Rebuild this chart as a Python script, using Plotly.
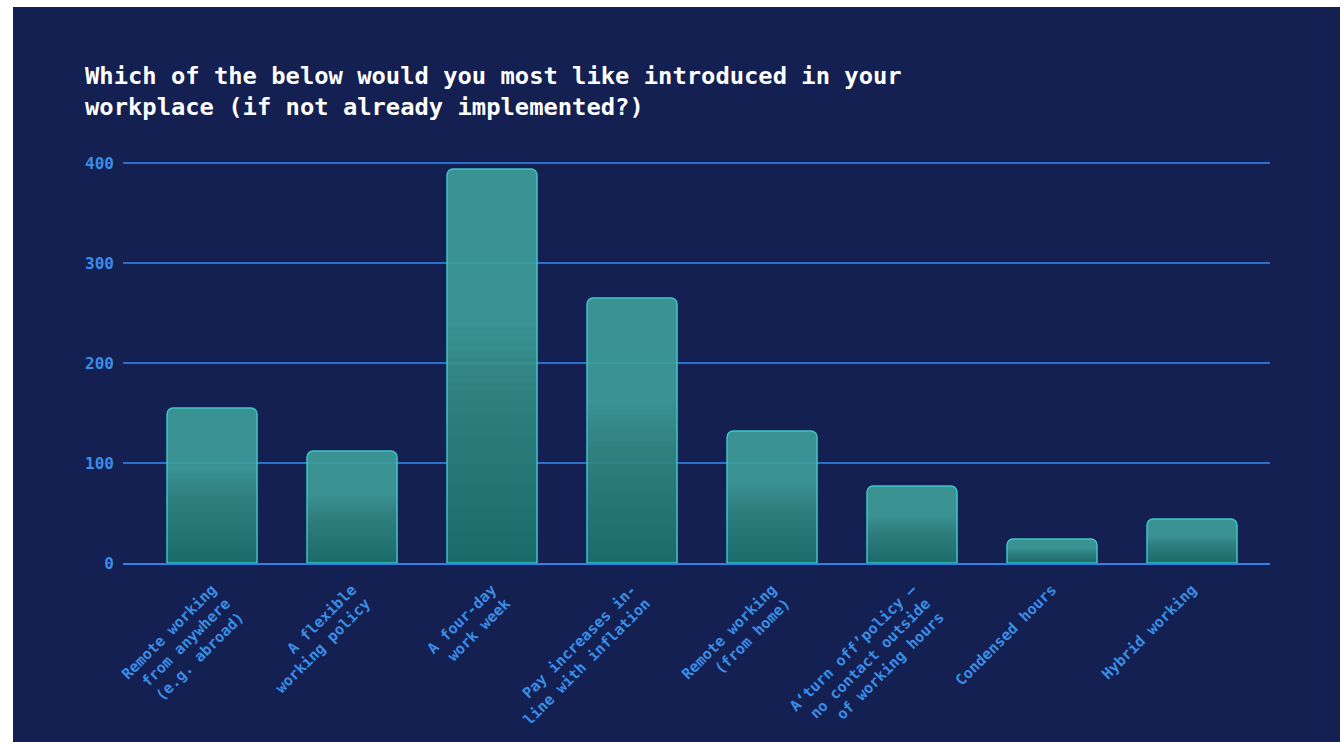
import plotly.graph_objects as go

# Survey answers (category labels, wrapped) and response counts
categories = [
    "Remote working<br>from anywhere<br>(e.g. abroad)",
    "A flexible<br>working policy",
    "A four-day<br>work week",
    "Pay increases in-<br>line with inflation",
    "Remote working<br>(from home)",
    "A‘turn off’policy –<br>no contact outside<br>of working hours",
    "Condensed hours",
    "Hybrid working",
]
responses = [155, 112, 394, 265, 132, 77, 24, 44]

y_ticks = [0, 100, 200, 300, 400]

TITLE = ("Which of the below would you most like introduced in your<br>"
         "workplace (if not already implemented?)")

BG = "#141f52"
BAR_FILL = "rgba(62,159,153,0.9)"
BAR_EDGE = "#3cc6c6"
GRID = "#2a6fc8"
AXIS_LINE = "#2f82ea"
TICK_COLOR = "#3a8ee6"
MONO = "DejaVu Sans Mono"

W, H = 1344, 742
L, R, T, B = 123, 74, 159, 179
plot_w = W - L - R
plot_h = H - T - B

fig = go.Figure()

# base bar fill with rounded tops
fig.add_trace(go.Bar(
    x=categories, y=responses,
    marker=dict(color=BAR_FILL, line=dict(width=0), cornerradius=6),
    hoverinfo="skip",
))

# stacked translucent layers darken the lower part of each bar (vertical gradient)
steps = 30
alpha = 1 - 0.62 ** (1 / steps)
for k in range(steps):
    frac = 0.6 * (k + 1) / steps
    fig.add_trace(go.Bar(
        x=categories, y=[v * frac for v in responses],
        marker=dict(color=f"rgba(20,40,48,{alpha:.4f})", line=dict(width=0)),
        hoverinfo="skip",
    ))

# outline drawn last
fig.add_trace(go.Bar(
    x=categories, y=responses,
    marker=dict(color="rgba(0,0,0,0)", line=dict(color=BAR_EDGE, width=1.5),
                cornerradius=6),
    hoverinfo="skip",
))

# white frame strips around the dark panel
def px_to_paper_x(px):
    return (px - L) / plot_w

def px_to_paper_y(py):
    return (H - B - py) / plot_h

strips = [
    (0, 0, 13, H),
    (0, 0, W, 7),
    (1340, 0, W, H),
]
shapes = []
for x0, y0, x1, y1 in strips:
    shapes.append(dict(
        type="rect", xref="paper", yref="paper",
        x0=px_to_paper_x(x0), x1=px_to_paper_x(x1),
        y0=px_to_paper_y(y1), y1=px_to_paper_y(y0),
        fillcolor="white", line=dict(width=0), layer="above",
    ))

fig.update_layout(
    width=W, height=H,
    margin=dict(l=L, r=R, t=T, b=B, autoexpand=False),
    paper_bgcolor=BG, plot_bgcolor=BG,
    barmode="overlay", bargap=0.357,
    showlegend=False,
    shapes=shapes,
    title=dict(
        text=TITLE,
        x=85 / W, xref="container", xanchor="left",
        y=1 - 84 / H, yref="container", yanchor="top",
        font=dict(family=MONO, size=23.8, color="white", weight="bold"),
    ),
    xaxis=dict(
        range=[-0.636, 7.557],
        tickangle=-45,
        tickfont=dict(family=MONO, size=15, color=TICK_COLOR, weight="bold"),
        showgrid=False, showline=True, linecolor=AXIS_LINE, linewidth=2,
        layer="above traces", ticks="",
        ticklabelstandoff=10, automargin=False,
    ),
    yaxis=dict(
        range=[0, 404],
        tickvals=y_ticks,
        tickfont=dict(family=MONO, size=16, color=TICK_COLOR, weight="bold"),
        showgrid=True, gridcolor=GRID, gridwidth=1.5,
        zeroline=False, showline=False, ticks="",
        ticklabelstandoff=8, automargin=False,
    ),
)

fig.write_html("out.html")
